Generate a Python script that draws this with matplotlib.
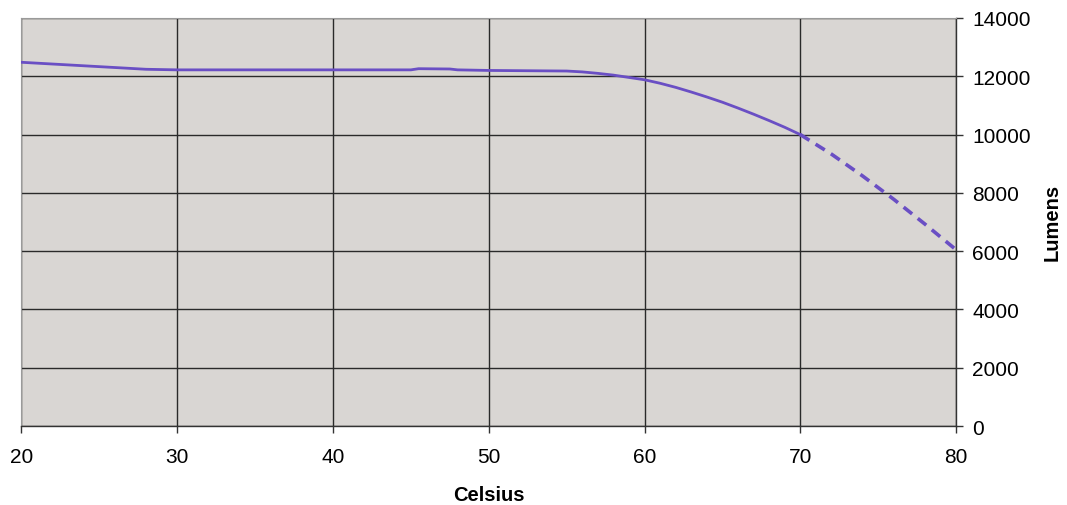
import numpy as np
import matplotlib.pyplot as plt

plt.rcParams['font.family'] = ['Liberation Sans', 'DejaVu Sans']

# measured part (solid)
celsius = [20, 22, 24, 26, 28, 30, 35, 40, 45, 45.5, 47.5, 48, 50, 55, 56, 57, 58, 59, 60,
           61, 62, 63, 64, 65, 66, 67, 68, 69, 70]
lumens = [12480, 12420, 12360, 12300, 12240, 12220, 12220, 12220, 12220, 12260, 12250, 12220,
          12200, 12180, 12150, 12100, 12040, 11960, 11880,
          11760, 11620, 11460, 11290, 11110, 10910, 10700, 10480, 10250, 10000]

# extrapolated part (dashed)
celsius_ext = [70, 72, 74, 76, 78, 80]
lumens_ext = [10000, 9330, 8580, 7780, 6930, 6050]

x_ticks = [20, 30, 40, 50, 60, 70, 80]
y_ticks = [0, 2000, 4000, 6000, 8000, 10000, 12000, 14000]

line_color = '#6a4fc4'

fig = plt.figure(figsize=(10.67, 5.06), dpi=100)
ax = fig.add_axes([0.0201, 0.156, 0.8759, 0.8065])
ax.set_facecolor('#d9d6d3')

ax.plot(celsius, lumens, color=line_color, lw=2, zorder=3)
ax.plot(celsius_ext, lumens_ext, color=line_color, lw=2.6, ls=(0, (3, 2)), zorder=3)

ax.set_xlim(20, 80)
ax.set_ylim(0, 14000)
ax.set_xticks(x_ticks)
ax.set_yticks(y_ticks)
ax.yaxis.tick_right()
ax.yaxis.set_label_position('right')

ax.grid(True, color='#2a2a2a', lw=1)
ax.set_axisbelow(True)

for s in ['left', 'top']:
    ax.spines[s].set_color('#9a9a9a')
for s in ['right', 'bottom']:
    ax.spines[s].set_color('#333333')
    ax.spines[s].set_linewidth(1)

ax.tick_params(axis='both', direction='out', length=5, width=1, color='#333333',
               labelsize=15)
ax.tick_params(axis='x', pad=10)
ax.tick_params(axis='y', pad=6.5)

ax.set_xlabel('Celsius', fontsize=14.5, fontweight='bold')
ax.xaxis.set_label_coords(0.5, -0.1446)
ax.set_ylabel('Lumens', fontsize=14.5, fontweight='bold', rotation=90)
ax.yaxis.set_label_coords(1.093, 0.502)

fig.savefig('out.png', dpi=100)
